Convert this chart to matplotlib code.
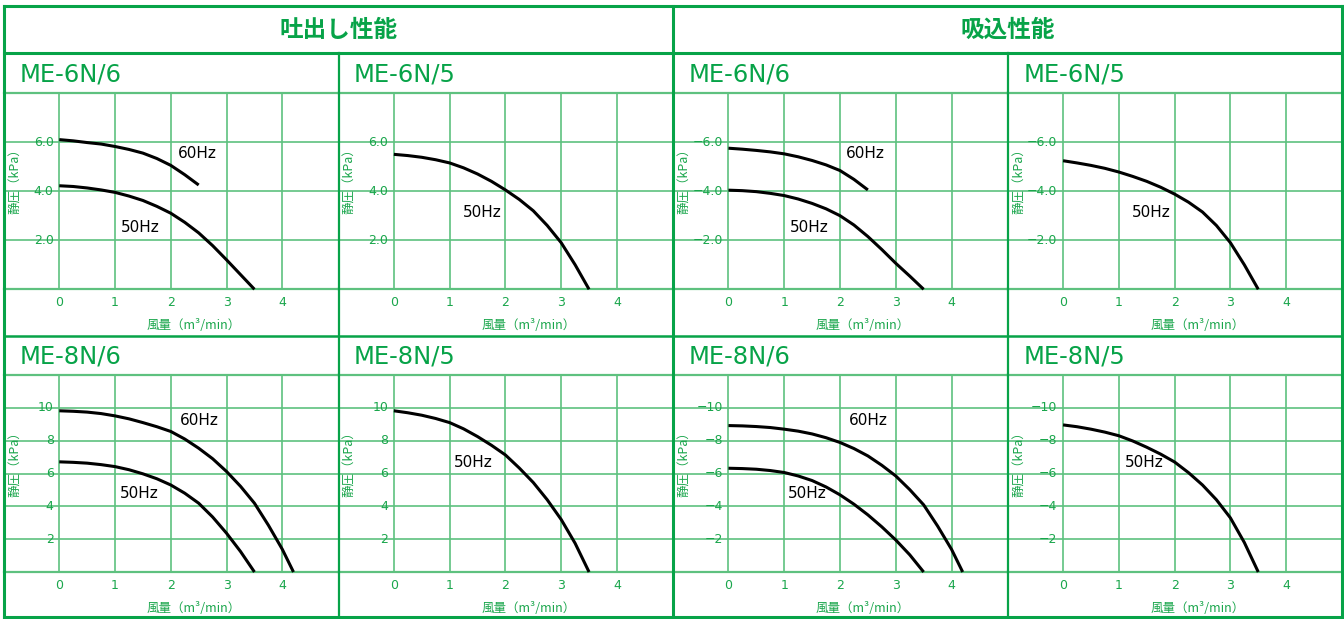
import matplotlib
matplotlib.use('Agg')
import matplotlib.pyplot as plt
from matplotlib.lines import Line2D

plt.rcParams['font.family'] = ['DejaVu Sans', 'Noto Sans CJK JP']

W, H, DPI = 1344, 619, 100

# ---------------- data ----------------
q25 = [0, 0.25, 0.5, 0.75, 1, 1.25, 1.5, 1.75, 2, 2.25, 2.5]
q35 = [0, 0.25, 0.5, 0.75, 1, 1.25, 1.5, 1.75, 2, 2.25, 2.5, 2.75, 3, 3.25, 3.5]
q42 = [0, 0.25, 0.5, 0.75, 1, 1.25, 1.5, 1.75, 2, 2.25, 2.5, 2.75, 3, 3.25, 3.5,
       3.75, 4, 4.2]

# discharge ME-6N/6
pres_d6n6_60 = [6.1, 6.05, 5.98, 5.92, 5.82, 5.70, 5.55, 5.33, 5.05, 4.67, 4.25]
pres_d6n6_50 = [4.22, 4.19, 4.13, 4.05, 3.95, 3.8, 3.62, 3.38, 3.1, 2.73, 2.3,
                1.78, 1.2, 0.6, 0]
# discharge ME-6N/5
pres_d6n5_50 = [5.5, 5.45, 5.38, 5.28, 5.15, 4.95, 4.7, 4.4, 4.05, 3.66, 3.2,
                2.6, 1.9, 1.0, 0]
# suction ME-6N/6
pres_s6n6_60 = [5.75, 5.71, 5.66, 5.6, 5.52, 5.4, 5.25, 5.07, 4.84, 4.48, 4.05]
pres_s6n6_50 = [4.04, 4.02, 3.98, 3.91, 3.82, 3.68, 3.5, 3.28, 3.0, 2.62, 2.15,
                1.62, 1.06, 0.54, 0]
# suction ME-6N/5
pres_s6n5_50 = [5.24, 5.15, 5.05, 4.93, 4.78, 4.6, 4.4, 4.16, 3.88, 3.55, 3.15,
                2.6, 1.9, 1.0, 0]
# discharge ME-8N/6
pres_d8n6_60 = [9.82, 9.79, 9.74, 9.65, 9.51, 9.33, 9.1, 8.85, 8.56, 8.1, 7.54,
                6.9, 6.12, 5.22, 4.19, 2.85, 1.38, 0]
pres_d8n6_50 = [6.71, 6.68, 6.63, 6.54, 6.42, 6.23, 5.98, 5.68, 5.3, 4.8, 4.19,
                3.35, 2.36, 1.25, 0]
# discharge ME-8N/5
pres_d8n5_50 = [9.82, 9.7, 9.55, 9.35, 9.1, 8.72, 8.25, 7.72, 7.13, 6.33, 5.45,
                4.4, 3.2, 1.75, 0]
# suction ME-8N/6
pres_s8n6_60 = [8.92, 8.9, 8.86, 8.8, 8.7, 8.58, 8.41, 8.18, 7.89, 7.52, 7.07,
                6.5, 5.85, 5.02, 4.09, 2.8, 1.38, 0]
pres_s8n6_50 = [6.32, 6.3, 6.26, 6.18, 6.06, 5.85, 5.57, 5.18, 4.7, 4.13, 3.48,
                2.75, 1.95, 1.05, 0]
# suction ME-8N/5
pres_s8n5_50 = [8.96, 8.85, 8.7, 8.52, 8.3, 7.98, 7.6, 7.18, 6.7, 6.05, 5.3,
                4.4, 3.3, 1.8, 0]

section_titles = ['吐出し性能', '吸込性能']
panel_titles_top = ['ME-6N/6', 'ME-6N/5', 'ME-6N/6', 'ME-6N/5']
panel_titles_bot = ['ME-8N/6', 'ME-8N/5', 'ME-8N/6', 'ME-8N/5']
x_ticks = [0, 1, 2, 3, 4]
x_tick_labels = ['0', '1', '2', '3', '4']
y_ticks_top = [2, 4, 6]
y_labels_top_disc = ['2.0', '4.0', '6.0']
y_labels_top_suct = ['−2.0', '−4.0', '−6.0']
y_ticks_bot = [2, 4, 6, 8, 10]
y_labels_bot_disc = ['2', '4', '6', '8', '10']
y_labels_bot_suct = ['−2', '−4', '−6', '−8', '−10']
y_axis_label = '静圧（kPa）'
x_axis_label = '風量（m³/min）'

# ---------------- style ----------------
HEAVY = '#07a348'
GRID = '#5ec17f'
TXT = '#1aa64c'
CJK = ['Noto Sans CJK JP', 'DejaVu Sans']

fig = plt.figure(figsize=(W / DPI, H / DPI), dpi=DPI)


def fx(px):
    return px / W


def fy(py):
    return 1 - py / H


def hline(py, x0, x1, color, lw):
    fig.add_artist(Line2D([fx(x0), fx(x1)], [fy(py), fy(py)], color=color, lw=lw,
                          solid_capstyle='projecting', zorder=10))


def vline(px, y0, y1, color, lw):
    fig.add_artist(Line2D([fx(px), fx(px)], [fy(y0), fy(y1)], color=color, lw=lw,
                          solid_capstyle='projecting', zorder=10))


panel_w = 334.6
left0 = 3.5
rows = [dict(top=93.0, bottom=289.3, ymax=8, yt=y_ticks_top),
        dict(top=375.0, bottom=572.0, ymax=12, yt=y_ticks_bot)]

panels = [
    (0, 0, y_labels_top_disc,
     [(q25, pres_d6n6_60), (q35, pres_d6n6_50)],
     [('60Hz', 2.48, 5.52), ('50Hz', 1.45, 2.5)]),
    (0, 1, y_labels_top_disc,
     [(q35, pres_d6n5_50)],
     [('50Hz', 1.59, 3.11)]),
    (0, 2, y_labels_top_suct,
     [(q25, pres_s6n6_60), (q35, pres_s6n6_50)],
     [('60Hz', 2.46, 5.52), ('50Hz', 1.45, 2.5)]),
    (0, 3, y_labels_top_suct,
     [(q35, pres_s6n5_50)],
     [('50Hz', 1.59, 3.11)]),
    (1, 0, y_labels_bot_disc,
     [(q42, pres_d8n6_60), (q35, pres_d8n6_50)],
     [('60Hz', 2.52, 9.2), ('50Hz', 1.43, 4.76)]),
    (1, 1, y_labels_bot_disc,
     [(q35, pres_d8n5_50)],
     [('50Hz', 1.43, 6.7)]),
    (1, 2, y_labels_bot_suct,
     [(q42, pres_s8n6_60), (q35, pres_s8n6_50)],
     [('60Hz', 2.5, 9.2), ('50Hz', 1.41, 4.76)]),
    (1, 3, y_labels_bot_suct,
     [(q35, pres_s8n5_50)],
     [('50Hz', 1.45, 6.7)]),
]

for r, c, ylabs, curves, notes in panels:
    row = rows[r]
    lpx = left0 + c * panel_w
    ax = fig.add_axes([fx(lpx), fy(row['bottom']), panel_w / W,
                       (row['bottom'] - row['top']) / H])
    ax.set_xlim(-1, 5)
    ax.set_ylim(0, row['ymax'])
    for s in ax.spines.values():
        s.set_visible(False)
    ax.set_facecolor('none')
    # grid
    for v in row['yt']:
        ax.axhline(v, color=GRID, lw=1.2, zorder=1)
    ax.axhline(0, color=GRID, lw=1.6, zorder=1, clip_on=False)
    ax.axhline(row['ymax'], color=GRID, lw=1.6, zorder=1, clip_on=False)
    for xv in x_ticks:
        ax.axvline(xv, color=GRID, lw=1.2, zorder=1)
    # curves
    for xs, ys in curves:
        ax.plot(xs, ys, color='black', lw=2.2, zorder=3, solid_capstyle='butt',
                solid_joinstyle='round', clip_on=False)
    for t, xv, yv in notes:
        ax.text(xv, yv, t, fontsize=11, color='black', ha='center', va='center',
                zorder=4)
    # y tick labels
    for v, lab in zip(row['yt'], ylabs):
        ax.text(-0.1, v, lab, fontsize=9, color=TXT, ha='right', va='center')
    # x tick labels
    ax.set_xticks(x_ticks)
    ax.set_xticklabels(x_tick_labels)
    ax.set_yticks([])
    ax.tick_params(axis='x', length=0, pad=5, labelsize=9, labelcolor=TXT)
    ax.set_xlabel(x_axis_label, fontsize=9, color=TXT, family=CJK)
    off = 36.0 / (row['bottom'] - row['top'])
    ax.xaxis.set_label_coords(0.569, -off)
    ax.xaxis.label.set_va('center')
    ax.text(0.036, 0.565, y_axis_label, transform=ax.transAxes, rotation=90,
            fontsize=9, color=TXT, ha='center', va='center', family=CJK)

# panel titles
for c in range(4):
    lpx = left0 + c * panel_w
    fig.text(fx(lpx + 16), fy(74), panel_titles_top[c], fontsize=17.5, color=HEAVY,
             ha='left', va='center')
    fig.text(fx(lpx + 16), fy(357), panel_titles_bot[c], fontsize=17.5, color=HEAVY,
             ha='left', va='center')

# section headers
fig.text(fx(338.5), fy(30), section_titles[0], fontsize=17, color=HEAVY,
         ha='center', va='center', weight='bold', family=CJK)
fig.text(fx(1007.5), fy(30), section_titles[1], fontsize=17, color=HEAVY,
         ha='center', va='center', weight='bold', family=CJK)

# frame lines
hline(6, 4, 1342, HEAVY, 2.2)
hline(617, 4, 1342, HEAVY, 2.2)
vline(4, 6, 617, HEAVY, 2.2)
vline(1342, 6, 617, HEAVY, 2.2)
hline(53, 4, 1342, HEAVY, 2.2)
vline(673, 6, 617, HEAVY, 2.2)
vline(338.5, 53, 617, HEAVY, 1.6)
vline(1007.5, 53, 617, HEAVY, 1.6)
hline(336, 4, 1342, HEAVY, 1.8)

fig.savefig('out.png', dpi=DPI, facecolor='white')
